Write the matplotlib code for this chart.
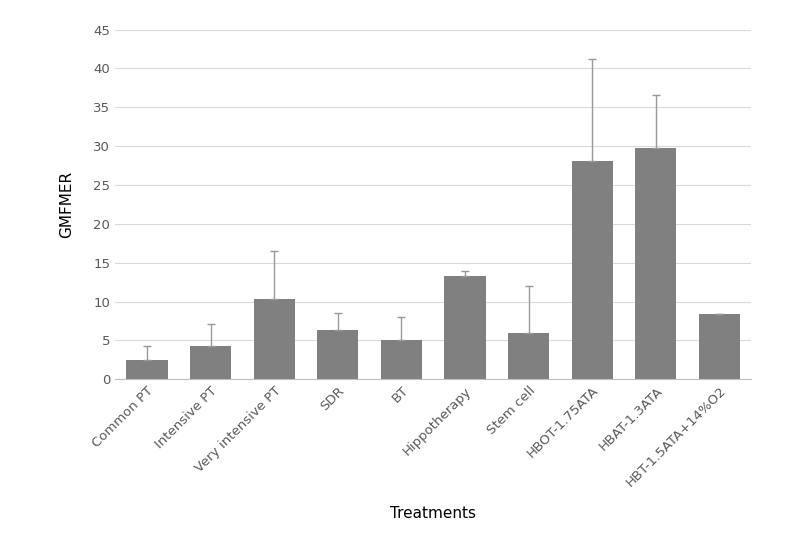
import numpy as np
import matplotlib.pyplot as plt

treatments = ['Common PT', 'Intensive PT', 'Very intensive PT', 'SDR', 'BT', 'Hippotherapy',
              'Stem cell', 'HBOT-1.75ATA', 'HBAT-1.3ATA', 'HBT-1.5ATA+14%O2']
means = [2.5, 4.3, 10.3, 6.4, 5.0, 13.3, 6.0, 28.1, 29.8, 8.4]
upper = [4.3, 7.1, 16.5, 8.5, 8.0, 13.9, 12.0, 41.2, 36.6, 8.4]

err = np.array(upper) - np.array(means)

fig = plt.figure(figsize=(8, 5.38), dpi=100)
ax = fig.add_axes([0.144, 0.295, 0.795, 0.65])
x = np.arange(len(treatments))
ax.bar(x, means, width=0.65, color='#808080', zorder=2)
ax.errorbar(x, means, yerr=[np.zeros_like(err), err], fmt='none', ecolor='#999999',
            elinewidth=1, capsize=3, zorder=3)
ax.set_ylim(0, 45)
ax.set_yticks(range(0, 46, 5))
ax.set_xlim(-0.5, len(treatments) - 0.5)
ax.grid(axis='y', color='#d9d9d9', linewidth=0.8, zorder=0)
for s in ['top', 'right', 'left']:
    ax.spines[s].set_visible(False)
ax.spines['bottom'].set_color('#bfbfbf')
ax.tick_params(axis='both', length=0, labelsize=9.5, colors='#595959')
ax.set_xticks(x)
ax.set_xticklabels(treatments, rotation=45, ha='right', rotation_mode='anchor')
ax.set_ylabel('GMFMER', fontsize=11, labelpad=14)
ax.set_xlabel('Treatments', fontsize=11, labelpad=12)
fig.savefig('out.png')
